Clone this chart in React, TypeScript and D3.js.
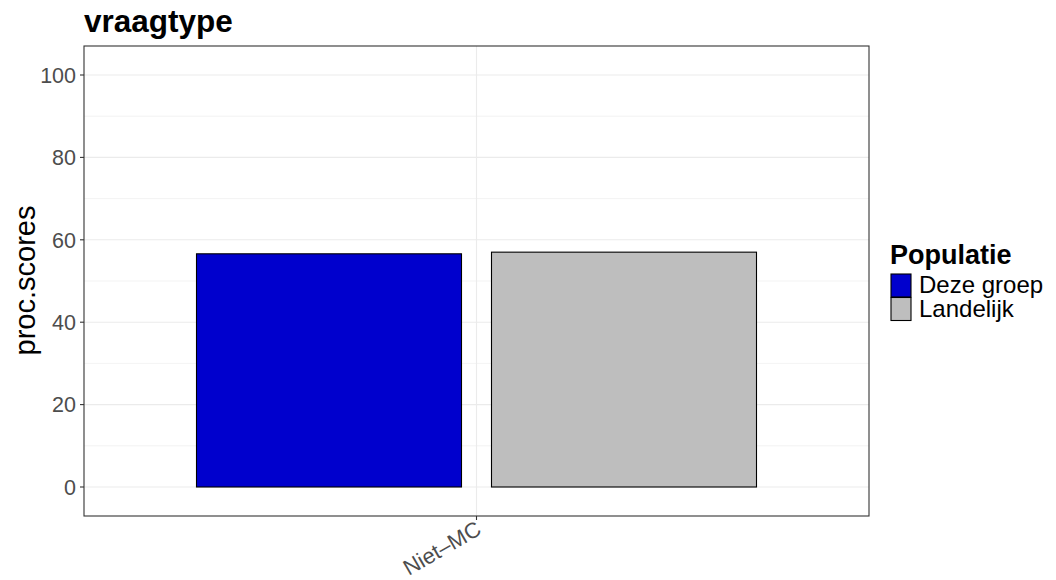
import React from "react";
import * as d3 from "d3";

const categories = ["Niet–MC"];
const groups = ["Deze groep", "Landelijk"];
const values = [56.6, 57.0];
const colors = ["#0000CD", "#BEBEBE"];
const yTicks = [0, 20, 40, 60, 80, 100];
const yMinor = [10, 30, 50, 70, 90];

export default function App() {
  const W = 1056, H = 580;
  const pl = 84, pr = 869, pt = 46, pb = 516;
  const y = d3.scaleLinear().domain([-7.04, 107.04]).range([pb, pt]);
  const x = d3.scaleBand().domain(categories).range([pl, pr]).paddingOuter(0.145).paddingInner(0);
  const xc = x(categories[0])! + x.bandwidth() / 2;
  const bw = 265;
  const gap = 30;
  const barX = [xc - gap / 2 - bw, xc + gap / 2];
  const font = "Liberation Sans, Arial, sans-serif";
  return (
    <svg width={W} height={H} style={{ position: "absolute", left: 0, top: 0, fontFamily: font }}>
      <rect x={0} y={0} width={W} height={H} fill="white" />
      {yMinor.map((t) => (
        <line key={"m" + t} x1={pl} x2={pr} y1={y(t)} y2={y(t)} stroke="#ebebeb" strokeWidth={0.6} />
      ))}
      {yTicks.map((t) => (
        <line key={"g" + t} x1={pl} x2={pr} y1={y(t)} y2={y(t)} stroke="#ebebeb" strokeWidth={1.1} />
      ))}
      <line x1={xc} x2={xc} y1={pt} y2={pb} stroke="#ebebeb" strokeWidth={1.1} />
      {values.map((v, i) => (
        <rect key={i} x={barX[i]} y={y(v)} width={bw} height={y(0) - y(v)} fill={colors[i]} stroke="black" strokeWidth={1.1} />
      ))}
      <rect x={pl} y={pt} width={pr - pl} height={pb - pt} fill="none" stroke="#333333" strokeWidth={1.1} />
      {yTicks.map((t) => (
        <g key={"t" + t}>
          <line x1={pl - 4} x2={pl} y1={y(t)} y2={y(t)} stroke="#333333" strokeWidth={1.1} />
          <text x={pl - 8} y={y(t)} dy="0.36em" textAnchor="end" fontSize={21.5} fill="#4d4d4d">{t}</text>
        </g>
      ))}
      <line x1={xc} x2={xc} y1={pb} y2={pb + 4} stroke="#333333" strokeWidth={1.1} />
      <text transform={`translate(${xc - 2},${pb + 3}) rotate(-30)`} textAnchor="end" dy="0.75em" fontSize={22} fill="#4d4d4d">{categories[0]}</text>
      <text transform={`translate(35,${(pt + pb) / 2 - 0.5}) rotate(-90)`} textAnchor="middle" fontSize={29} fill="black">proc.scores</text>
      <text x={pl} y={32} fontSize={31.5} fontWeight="bold" fill="black">vraagtype</text>
      <text x={890} y={264} fontSize={27} fontWeight="bold" fill="black">Populatie</text>
      {groups.map((g, i) => (
        <g key={g}>
          <rect x={891} y={274 + i * 23.5} width={20} height={23} fill={colors[i]} stroke="black" strokeWidth={1.1} />
          <text x={919} y={293 + i * 23.5} fontSize={24} fill="black">{g}</text>
        </g>
      ))}
    </svg>
  );
}
